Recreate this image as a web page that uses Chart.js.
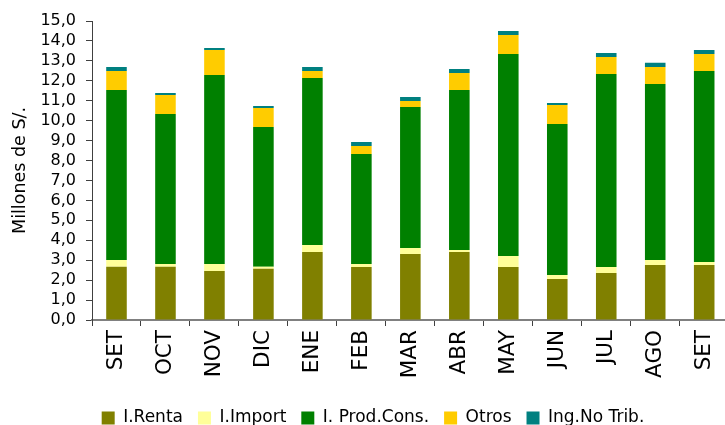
<!DOCTYPE html>
<html>
<head>
<meta charset="utf-8">
<script src="https://cdn.jsdelivr.net/npm/chart.js@4.4.1/dist/chart.umd.min.js"></script>
<style>
  html, body { margin: 0; padding: 0; background: #ffffff; overflow: hidden; }
  #wrap { width: 725px; height: 425px; overflow: hidden; position: relative; }
  canvas { display: block; }
</style>
</head>
<body>
<div id="wrap"><canvas id="c" width="734" height="425"></canvas></div>
<script>
const categories = ['SET', 'OCT', 'NOV', 'DIC', 'ENE', 'FEB', 'MAR', 'ABR', 'MAY', 'JUN', 'JUL', 'AGO', 'SET'];
const seriesNames = ['I.Renta', 'I.Import', 'I. Prod.Cons.', 'Otros', 'Ing.No Trib.'];
const iRenta   = [2.67, 2.67, 2.46, 2.57, 3.41, 2.66, 3.31, 3.41, 2.66, 2.06, 2.36, 2.76, 2.76];
const iImport  = [0.34, 0.14, 0.35, 0.10, 0.35, 0.15, 0.30, 0.10, 0.55, 0.20, 0.30, 0.25, 0.15];
const iProdCons= [8.53, 7.53, 9.48, 7.01, 8.38, 5.52, 7.08, 8.03, 10.14, 7.57, 9.68, 8.83, 9.58];
const otros    = [0.95, 0.95, 1.26, 0.96, 0.35, 0.40, 0.30, 0.85, 0.95, 0.96, 0.86, 0.85, 0.86];
const ingNoTrib= [0.20, 0.10, 0.10, 0.10, 0.20, 0.20, 0.20, 0.20, 0.20, 0.10, 0.20, 0.21, 0.20];
const yAxisTitle = 'Millones de S/.';
const yMin = 0, yMax = 15, yStep = 1;

const colors = ['#808000', '#FFFF99', '#008000', '#FFCC00', '#008080'];
const seriesValues = [iRenta, iImport, iProdCons, otros, ingNoTrib];

const shiftLegend = {
  id: 'shiftLegend',
  afterLayout(chart) {
    const l = chart.legend;
    if (!l) return;
    l.left += 6; l.right += 6;
    l.top += 11.5; l.bottom += 11.5;
  }
};

const FONT = "'DejaVu Sans', sans-serif";

new Chart(document.getElementById('c'), {
  type: 'bar',
  data: {
    labels: categories,
    datasets: seriesNames.map((name, i) => ({
      label: name,
      data: seriesValues[i],
      backgroundColor: colors[i],
      borderWidth: 0,
      barPercentage: 0.42,
      categoryPercentage: 1.0
    }))
  },
  options: {
    responsive: false,
    animation: false,
    layout: { padding: { top: 21, left: 0, right: 0, bottom: 0 } },
    plugins: {
      legend: {
        position: 'bottom',
        labels: {
          font: { family: FONT, size: 17 },
          color: '#000000',
          boxWidth: 13,
          boxHeight: 13,
          padding: 15
        }
      },
      tooltip: { enabled: false },
      title: { display: false }
    },
    scales: {
      x: {
        stacked: true,
        offset: true,
        grid: { display: true, drawOnChartArea: false, drawTicks: true, tickLength: 6, color: '#404040', offset: true },
        border: { display: true, color: '#808080', width: 2 },
        ticks: {
          font: { family: FONT, size: 21.5 },
          color: '#000000',
          minRotation: 90,
          maxRotation: 90,
          padding: 4,
          autoSkip: false
        },
        afterFit(scale) { scale.height = 63; }
      },
      y: {
        stacked: true,
        min: yMin,
        max: yMax,
        grid: { display: true, drawOnChartArea: false, drawTicks: true, tickLength: 6, color: '#404040' },
        border: { display: true, color: '#404040', width: 1 },
        ticks: {
          stepSize: yStep,
          autoSkip: false,
          maxTicksLimit: 30,
          font: { family: FONT, size: 16, lineHeight: 1.0 },
          color: '#000000',
          padding: 10,
          callback: (v) => Number(v).toFixed(1).replace('.', ',')
        },
        title: {
          display: true,
          text: yAxisTitle,
          font: { family: FONT, size: 17.5 },
          color: '#000000',
          padding: { top: 10, bottom: 0 }
        },
        afterFit(scale) { scale.width = 92; }
      }
    }
  },
  plugins: [shiftLegend]
});
</script>
</body>
</html>
